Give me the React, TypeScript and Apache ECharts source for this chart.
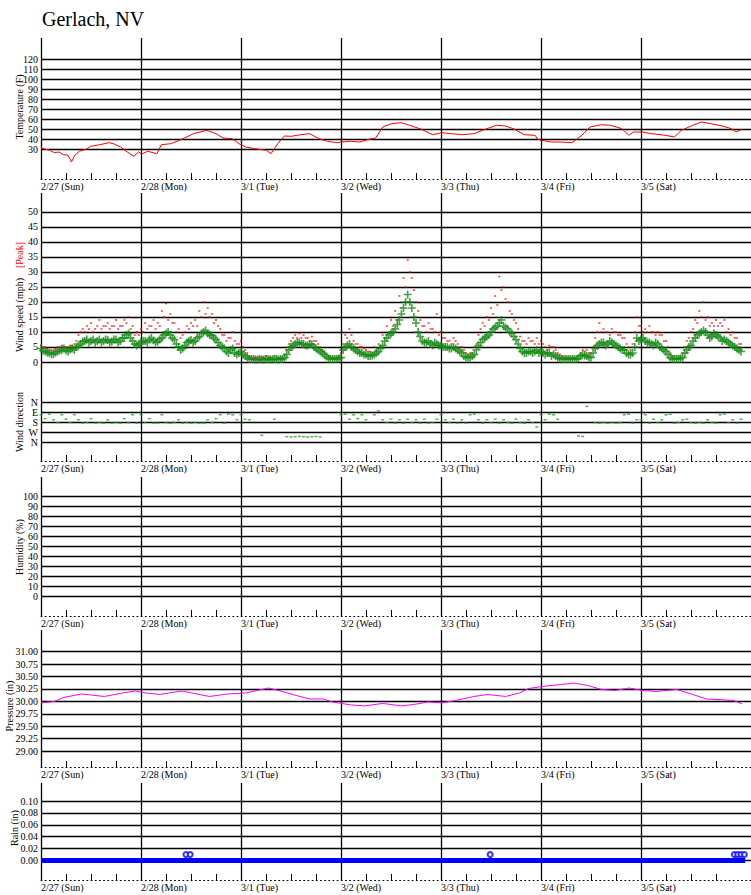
import React, { useEffect, useRef } from 'react';
import * as echarts from 'echarts';

const FONT = '"Liberation Serif", "Times New Roman", serif';

// ---------- data ----------
const dayLabels = ['2/27 (Sun)', '2/28 (Mon)', '3/1 (Tue)', '3/2 (Wed)', '3/3 (Thu)', '3/4 (Fri)', '3/5 (Sat)'];

// hours since 2/27 00:00
const tempHours = [0, 2.1, 3.2, 4.3, 5.4, 6.5, 7.3, 8.1, 9.2, 10.8, 11.9, 14.1, 16.3, 17.4, 19.1, 20.7, 22.3, 23.4, 24.2, 25.6, 27.8, 28.9, 31.1, 32.7, 34.4, 36.6, 39.8, 42.0, 43.7, 45.9, 47.5, 49.1, 51.3, 54.1, 55.2, 56.8, 58.4, 60.1, 62.3, 64.5, 66.7, 68.8, 71.0, 72.1, 74.3, 76.5, 78.7, 80.3, 82.0, 84.2, 86.4, 88.5, 91.3, 94.0, 96.2, 98.4, 101.1, 103.9, 106.6, 109.3, 111.5, 113.7, 115.9, 118.6, 119.2, 120.2, 122.5, 124.7, 127.4, 129.6, 131.8, 134.5, 136.7, 139.4, 141.1, 142.2, 144.3, 146.5, 149.8, 152.0, 153.7, 156.4, 158.6, 160.8, 163.5, 165.7, 166.8, 168.2];
const tempValues = [31, 28.7, 26.3, 27, 24.3, 23.7, 17, 23.7, 27.7, 29.7, 32.7, 34.3, 36.3, 35.3, 32, 27, 22.7, 27, 25, 27.7, 25.3, 34.3, 35.3, 37.7, 41, 45.3, 48.7, 45.3, 41, 40.3, 35.3, 32, 30.3, 28.7, 25.3, 35.3, 43, 42.7, 44.3, 45.3, 40.3, 37.7, 36.3, 37, 37.7, 37, 39.7, 41, 52, 55.3, 56.3, 53.7, 49.7, 44.3, 46.3, 45.3, 44.3, 45.3, 49.7, 53.7, 53, 49.7, 44.3, 43.7, 39.7, 38.7, 37, 37, 36.3, 43, 52, 54.3, 53.7, 50.3, 43.7, 47, 47, 45.3, 43.7, 42, 48.7, 53.7, 57, 55.3, 53, 50.3, 47, 49.7];

// hourly average wind, hour 0 .. 168
const windAvg = [
  4.5, 3.5, 3.0, 2.7, 3.5, 4.0, 3.8, 4.2, 4.0, 5.5, 6.8, 7.5, 7.0, 6.5, 7.5, 7.0, 7.3, 6.8, 7.5, 7.0, 8.0, 9.5, 7.0, 5.5,
  6.5, 7.0, 7.5, 7.2, 6.8, 8.0, 9.5, 9.0, 7.5, 5.0, 4.5, 6.5, 7.3, 7.0, 8.5, 10.0, 9.5, 8.8, 7.5, 5.5, 4.5, 3.0, 4.5, 2.5,
  3.5, 2.0, 1.0, 1.0, 0.8, 0.8, 1.0, 0.8, 1.0, 0.8, 1.0, 2.5, 5.0, 6.0, 6.5, 6.0, 5.5, 5.8, 4.5, 3.5, 2.5, 1.2, 1.0, 1.0,
  1.5, 5.0, 6.0, 4.5, 3.5, 3.0, 2.5, 2.0, 2.5, 3.5, 5.5, 8.0, 9.5, 11.0, 14.0, 18.0, 22.5, 18.0, 13.0, 8.5, 6.5, 7.0, 5.5, 6.0,
  5.5, 5.0, 4.5, 5.0, 4.0, 3.0, 1.5, 1.5, 2.5, 5.5, 7.5, 8.5, 10.0, 11.5, 13.0, 12.0, 11.0, 9.5, 7.5, 4.5, 3.0, 3.5, 3.0, 4.0,
  3.5, 2.5, 3.0, 2.5, 1.5, 1.0, 1.0, 1.0, 1.0, 1.2, 2.5, 2.0, 1.5, 4.5, 6.0, 6.5, 6.0, 6.5, 5.5, 4.5, 4.0, 2.5, 3.0, 8.0,
  7.5, 7.0, 6.5, 5.5, 6.0, 4.5, 3.5, 1.5, 1.0, 1.0, 1.5, 4.0, 5.5, 8.0, 9.5, 10.5, 9.0, 8.5, 9.0, 8.0, 7.5, 6.5, 5.5, 4.5, 3.5,
];
// average wind at the half hours, hour 0.5 .. 167.5
const windAvgHalf = [
  3.8, 3.2, 2.5, 3.2, 3.8, 4.5, 3.5, 4.5, 5, 6, 7, 6.5, 7.5, 7, 6.5, 7.5, 6.5, 7.5, 6.5, 8, 9, 8, 6, 6,
  7, 6.5, 8, 6.5, 7.5, 9, 10, 8, 6, 4, 5.5, 7, 6.5, 8, 9.5, 10.5, 9, 8, 6.5, 5, 3.5, 4, 3, 3,
  2.5, 1.5, 1, 0.8, 1, 0.8, 1, 0.8, 1, 1, 1.5, 4, 5.5, 6.5, 6, 5.5, 6, 5, 4, 3, 1.8, 1, 1, 1.2,
  4, 5.5, 5, 4, 3, 2.5, 2, 2.2, 3, 4.5, 7, 9, 10, 12.5, 16, 20, 20, 15, 10, 7, 6.5, 6, 6.5, 5.5,
  5, 5, 4.5, 4.5, 3.5, 2, 1.5, 2, 4, 6.5, 8, 9, 11, 12, 14, 11.5, 10, 8.5, 6, 3.5, 3, 3.5, 3.5, 3,
  3, 3, 2, 2, 1.2, 1, 1, 1, 1, 2, 2.2, 1.5, 3, 5.5, 6.5, 5.5, 7, 6, 5, 4, 3, 2.5, 5, 7,
  8, 6.5, 6, 6.5, 5, 4, 2.5, 1, 1, 1.2, 3, 5, 7, 9, 10, 10, 8, 9.5, 8.5, 7, 7, 6, 5, 4,
];
// hourly peak wind, hour 0 .. 168
const windPeak = [
  5.5, 5, 4, 4, 5, 5.5, 5, 5.5, 6, 9, 11, 12, 13, 11, 14, 12, 13, 12, 14, 12, 14, 15, 12, 10,
  11, 13, 12, 14, 13, 17, 19.5, 16, 13, 11, 9, 12, 13, 14, 17, 20, 18, 16, 14, 11, 9, 8, 10, 6,
  7, 4, 2, 1.5, 1.5, 1.5, 2, 1.5, 2, 1.5, 1.5, 4, 7, 9, 9.5, 9, 8, 8.5, 7, 5, 3.5, 2, 1.5, 1.5,
  3, 9, 11, 7, 6, 5, 4, 3.5, 5, 6, 9, 12, 14, 17, 22, 28, 34, 28, 20, 14, 12, 13, 11, 16,
  10, 8, 7, 8, 6, 5, 3, 3, 5, 9, 13, 15, 18, 22, 28.5, 25, 20, 16, 13, 8.5, 7, 8, 7, 8,
  7, 5, 5.5, 5, 3, 2, 1.5, 1.5, 1.5, 2, 4, 4, 3, 8, 13, 11, 10, 11, 10, 9, 8, 5, 6, 15,
  12, 11, 12, 10, 10, 9, 7, 3, 2, 2, 3, 7, 10, 14, 17, 20, 15, 13, 14, 13, 14, 11, 10, 8, 6,
];
// peak wind at the half hours, hour 0.5 .. 167.5
const windPeakHalf = [
  5, 4.5, 4, 4.5, 5, 5, 5, 5.5, 7, 10, 10, 11, 10, 12, 11, 12, 11, 12, 11, 12, 13, 11, 9, 9,
  10, 11, 12, 11, 12, 15, 14, 13, 10, 8, 10, 11, 12, 12, 15, 16, 15, 13, 12, 9, 7, 8, 7, 6,
  5, 3, 1.5, 1.5, 1.5, 1.5, 1.5, 1.5, 1.5, 1.5, 2.5, 6, 8, 8, 8, 8, 7, 7, 6, 4, 2.5, 1.5, 1.5, 2,
  6, 8, 9, 6, 5, 4.5, 3.5, 3, 4, 5, 8, 10, 12, 14, 18, 25, 30, 24, 17, 12, 10, 11, 10, 9,
  8, 7, 6, 7, 5, 4, 2.5, 3, 6, 11, 12, 14, 16, 19, 24, 21, 17, 14, 11, 7, 6, 7, 6, 6,
  6, 4, 5, 4, 2.5, 1.5, 1.5, 1.5, 1.5, 3, 3.5, 3, 5, 10, 10, 10, 9, 10, 9, 8, 6, 4, 10, 12,
  10, 10, 10, 9, 9, 7, 5, 2, 1.5, 2, 5, 8, 11, 13, 15, 14, 12, 12, 12, 12, 10, 9, 8, 6,
];
// degrees, hourly (null = calm / no reading)
const windDir = [
  115, 150, 110, 160, 185, 115, 155, 185, 115, 160, 190, 185, 150, 190, 185, 190, 160, 190, 185, 190, 150, 185, 115, 190,
  115, 185, 150, 190, 190, 115, 185, 190, 185, 160, 190, 185, 190, 185, 190, 190, 160, 185, 150, 115, 190, 110, 115, 160,
  115, 155, 160, null, null, 300, null, null, 155, null, null, 312, 315, 312, 310, 312, 315, 312, 310, 315, null, null, null, null,
  115, 110, 155, 115, 150, 115, 160, null, 115, 80, 160, 185, 155, 190, 160, 190, 155, 185, 160, 190, 155, 190, 185, 155,
  115, 160, 185, 155, 190, 160, 190, 115, 110, 160, 190, 160, 185, 155, 190, 160, 185, 190, 155, 185, 190, 160, 185, 225,
  115, 160, 110, 115, 155, null, null, null, null, 305, 310, 40, null, 185, 190, 185, 190, 185, 190, 185, 115, 110, 190, 160,
  160, 115, 190, 155, 185, 160, 115, 110, 190, 185, 160, 155, 185, 190, 185, 190, 160, 185, 190, 115, 110, 185, 160, 190, 155,
];

const pressureHours = [0.1, 3.2, 5.4, 9.7, 15.2, 19.6, 22.7, 25.1, 28.4, 33.8, 40.4, 44.8, 49.1, 54.6, 57.9, 61.2, 64.5, 67.7, 69.9, 74.3, 77.6, 82.0, 86.4, 89.6, 92.9, 96.2, 99.5, 103.9, 107.1, 111.5, 114.8, 117.0, 120.3, 124.7, 127.9, 131.2, 134.5, 137.8, 141.1, 144.4, 147.6, 152.6, 156.4, 159.7, 164.1, 166.2, 168.2];
const pressureValues = [29.97, 30.00, 30.08, 30.15, 30.10, 30.17, 30.21, 30.17, 30.14, 30.21, 30.10, 30.15, 30.17, 30.27, 30.20, 30.12, 30.05, 30.05, 29.99, 29.93, 29.91, 29.96, 29.91, 29.94, 29.99, 29.97, 30.02, 30.10, 30.14, 30.10, 30.17, 30.26, 30.30, 30.34, 30.37, 30.32, 30.24, 30.22, 30.27, 30.22, 30.20, 30.24, 30.14, 30.05, 30.03, 30.02, 29.95];

// hourly rain, hour 0 .. 169
const rainValues = [
  0, 0, 0, 0, 0, 0, 0, 0, 0, 0, 0, 0, 0, 0, 0, 0, 0, 0, 0, 0, 0, 0, 0, 0,
  0, 0, 0, 0, 0, 0, 0, 0, 0, 0, 0, 0, 0, 0, 0, 0, 0, 0, 0, 0, 0, 0, 0, 0,
  0, 0, 0, 0, 0, 0, 0, 0, 0, 0, 0, 0, 0, 0, 0, 0, 0, 0, 0, 0, 0, 0, 0, 0,
  0, 0, 0, 0, 0, 0, 0, 0, 0, 0, 0, 0, 0, 0, 0, 0, 0, 0, 0, 0, 0, 0, 0, 0,
  0, 0, 0, 0, 0, 0, 0, 0, 0, 0, 0, 0, 0, 0, 0, 0, 0, 0, 0, 0, 0, 0, 0, 0,
  0, 0, 0, 0, 0, 0, 0, 0, 0, 0, 0, 0, 0, 0, 0, 0, 0, 0, 0, 0, 0, 0, 0, 0,
  0, 0, 0, 0, 0, 0, 0, 0, 0, 0, 0, 0, 0, 0, 0, 0, 0, 0, 0, 0, 0, 0, 0, 0,
  0, 0,
];
const rainEventHours = [34.8, 35.8, 107.8, 166.4, 167.2, 168.0, 168.8];
const rainEventValues = [0.01, 0.01, 0.01, 0.01, 0.01, 0.01, 0.01];

// tick labels
const tempTicks = [30, 40, 50, 60, 70, 80, 90, 100, 110, 120];
const windTicks = [0, 5, 10, 15, 20, 25, 30, 35, 40, 45, 50];
const dirTicks = [0, 90, 180, 270, 360];
const dirNames = ['N', 'E', 'S', 'W', 'N'];
const humidityTicks = [0, 10, 20, 30, 40, 50, 60, 70, 80, 90, 100];
const pressureTicks = [29.0, 29.25, 29.5, 29.75, 30.0, 30.25, 30.5, 30.75, 31.0];
const rainTicks = [0, 0.02, 0.04, 0.06, 0.08, 0.1];

// ---------- layout ----------
const CHART_W = 771; // wider than the window; the outer box clips it
const X_MAX = 172.8; // 720 px of plot => 100 px per day
const PLUS = 'path://M2,0H3V2H5V3H3V5H2V3H0V2H2Z';

const panels = [
  { top: 38, height: 141, min: 0, max: 141, inverse: false, ticks: tempTicks, showX: true, fmt: (v: number) => String(v) },
  { top: 193, height: 169, min: 0, max: 56.33, inverse: false, ticks: windTicks, showX: false, fmt: (v: number) => String(v) },
  { top: 362, height: 99, min: -360, max: 531, inverse: true, ticks: dirTicks, showX: true, fmt: (v: number) => dirNames[dirTicks.indexOf(v)] ?? '' },
  { top: 477, height: 139, min: -20, max: 119, inverse: false, ticks: humidityTicks, showX: true, fmt: (v: number) => String(v) },
  { top: 630, height: 137, min: 28.682, max: 31.436, inverse: false, ticks: pressureTicks, showX: true, fmt: (v: number) => v.toFixed(2) },
  { top: 783, height: 97, min: -0.0328, max: 0.1303, inverse: false, ticks: rainTicks, showX: true, fmt: (v: number) => v.toFixed(2) },
];

const gridLines = (ticks: number[]) => ({
  silent: true,
  symbol: ['none', 'none'],
  z: 1,
  label: { show: false },
  emphasis: { disabled: true },
  lineStyle: { color: '#000', width: 1.3, type: 'solid' },
  data: [
    ...ticks.map((v) => ({ yAxis: v })),
    ...dayLabels.map((_, d) => ({ xAxis: d * 24 })),
  ],
});

const axisTitle = (text: string, x: number, y: number, color = '#000') => ({
  type: 'text',
  x,
  y,
  rotation: Math.PI / 2,
  silent: true,
  style: {
    text,
    font: `10px ${FONT}`,
    fill: color,
    align: 'center',
    verticalAlign: 'middle',
    textAlign: 'center',
    textVerticalAlign: 'middle',
  },
});

export default function App() {
  const ref = useRef<HTMLDivElement>(null);

  useEffect(() => {
    if (!ref.current) return;
    const chart = echarts.init(ref.current, null, { renderer: 'svg' });

    const grid = panels.map((p) => ({ left: 41, right: 10, top: p.top, height: p.height }));

    const xAxis = panels.map((p, i) => ({
      type: 'value',
      gridIndex: i,
      min: 0,
      max: X_MAX,
      interval: 24,
      axisLine: { show: p.showX, onZero: false, lineStyle: { color: '#000', width: 1, type: [1, 3.17] } },
      axisTick: { show: false, inside: true, length: 6 },
      minorTick: { show: p.showX, splitNumber: 4, length: 6, lineStyle: { color: '#000', width: 1 } },
      axisLabel: {
        show: p.showX,
        formatter: (v: number) => (v % 24 === 0 && v < 168 ? dayLabels[v / 24] : ''),
        align: 'left',
        verticalAlign: 'top',
        margin: 2,
        fontSize: 10,
        fontFamily: FONT,
        color: '#000',
        showMinLabel: true,
        hideOverlap: false,
      },
      splitLine: { show: false },
    }));

    const yAxis = panels.map((p, i) => ({
      type: 'value',
      gridIndex: i,
      min: p.min,
      max: p.max,
      inverse: p.inverse,
      axisLine: { show: false },
      axisTick: { show: false },
      splitLine: { show: false },
      axisLabel: {
        customValues: p.ticks,
        formatter: p.fmt,
        fontSize: 10,
        fontFamily: FONT,
        color: '#000',
        margin: 3,
      },
    }));

    const hourIdx = (arr: (number | null)[], offset = 0) =>
      arr.map((v, i) => [i + offset, v]).filter((d) => d[1] !== null);

    const series: any[] = [
      {
        type: 'line', xAxisIndex: 0, yAxisIndex: 0, z: 3,
        data: tempHours.map((h, i) => [h, tempValues[i]]),
        showSymbol: false, symbol: 'none',
        lineStyle: { color: '#ff0000', width: 1 },
        markLine: gridLines(tempTicks),
      },
      {
        type: 'scatter', xAxisIndex: 1, yAxisIndex: 1, z: 3,
        data: hourIdx(windPeak),
        symbol: 'rect', symbolSize: [2, 1.5],
        itemStyle: { color: '#ff0000' },
        markLine: gridLines(windTicks),
      },
      {
        type: 'scatter', xAxisIndex: 1, yAxisIndex: 1, z: 3,
        data: hourIdx(windPeakHalf, 0.5),
        symbol: 'rect', symbolSize: [2, 1.5],
        itemStyle: { color: '#ff0000' },
      },
      {
        type: 'scatter', xAxisIndex: 1, yAxisIndex: 1, z: 4,
        data: hourIdx(windAvg),
        symbol: PLUS, symbolSize: 8,
        itemStyle: { color: '#138a13' },
      },
      {
        type: 'scatter', xAxisIndex: 1, yAxisIndex: 1, z: 4,
        data: hourIdx(windAvgHalf, 0.5),
        symbol: PLUS, symbolSize: 8,
        itemStyle: { color: '#138a13' },
      },
      {
        type: 'scatter', xAxisIndex: 2, yAxisIndex: 2, z: 3,
        data: hourIdx(windDir),
        symbol: 'rect', symbolSize: [3, 1.5],
        itemStyle: { color: '#2fa02f' },
        markLine: gridLines(dirTicks),
      },
      {
        type: 'line', xAxisIndex: 3, yAxisIndex: 3, z: 3,
        data: [],
        showSymbol: false,
        markLine: gridLines(humidityTicks),
      },
      {
        type: 'line', xAxisIndex: 4, yAxisIndex: 4, z: 3,
        data: pressureHours.map((h, i) => [h, pressureValues[i]]),
        showSymbol: false, symbol: 'none',
        lineStyle: { color: '#ff00ff', width: 1 },
        markLine: gridLines(pressureTicks),
      },
      {
        type: 'line', xAxisIndex: 5, yAxisIndex: 5, z: 3,
        data: hourIdx(rainValues),
        showSymbol: false, symbol: 'none',
        lineStyle: { color: '#0000ff', width: 5 },
        markLine: gridLines(rainTicks),
      },
      {
        type: 'scatter', xAxisIndex: 5, yAxisIndex: 5, z: 4,
        data: rainEventHours.map((h, i) => [h, rainEventValues[i]]),
        symbol: 'emptyCircle', symbolSize: 5,
        itemStyle: { color: '#0000ff', borderColor: '#0000ff', borderWidth: 1 },
      },
    ];

    chart.setOption({
      animation: false,
      backgroundColor: '#fff',
      textStyle: { fontFamily: FONT },
      grid,
      xAxis,
      yAxis,
      series,
      graphic: [
        {
          type: 'text', left: 42, top: 9, silent: true,
          style: { text: 'Gerlach, NV', font: `20px ${FONT}`, fill: '#000' },
        },
        axisTitle('Temperature (F)', 19, 107),
        axisTitle('Wind speed (mph)', 19, 315),
        axisTitle('[Peak]', 19, 255, '#ff0000'),
        axisTitle('Wind direction', 19, 422),
        axisTitle('Humidity (%)', 19, 547),
        axisTitle('Pressure (in)', 9, 706),
        axisTitle('Rain (in)', 14, 828),
      ],
    });

    return () => chart.dispose();
  }, []);

  return (
    <div style={{ position: 'absolute', left: 0, top: 0, width: 751, height: 895, overflow: 'hidden', background: '#fff' }}>
      <div ref={ref} style={{ width: CHART_W, height: 895 }} />
    </div>
  );
}
